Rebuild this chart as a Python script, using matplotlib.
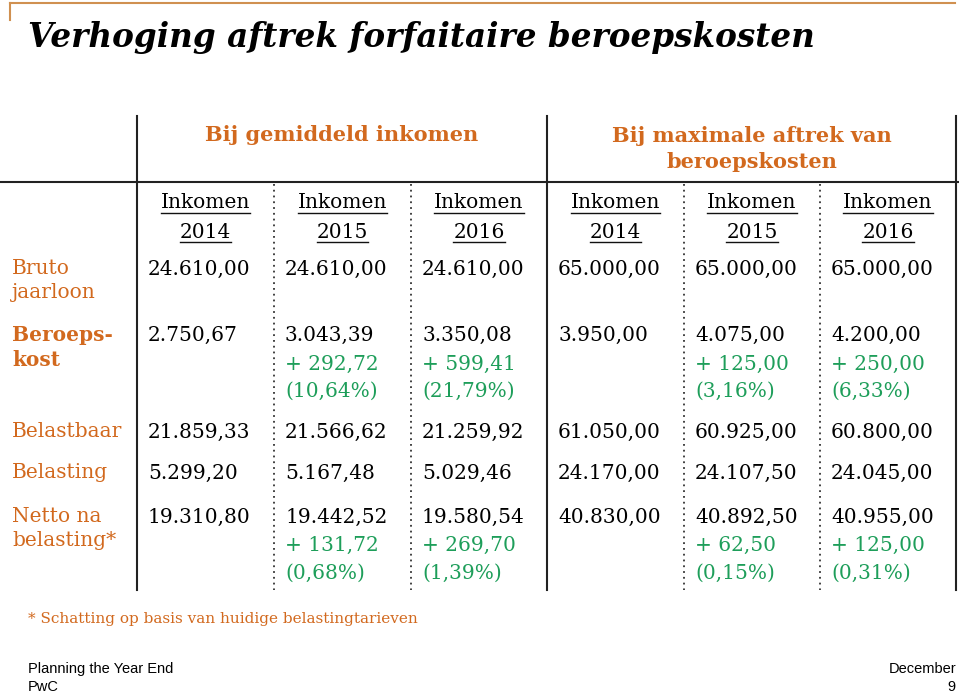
import matplotlib
matplotlib.use('Agg')
import matplotlib.pyplot as plt

# gegevens uit de tabel
groepen = ['Bij gemiddeld inkomen', 'Bij maximale aftrek van\nberoepskosten']
jaren = ['2014', '2015', '2016', '2014', '2015', '2016']
rij_labels = ['Bruto\njaarloon', 'Beroeps-\nkost', 'Belastbaar', 'Belasting', 'Netto na\nbelasting*']

bruto = [24610.00, 24610.00, 24610.00, 65000.00, 65000.00, 65000.00]
beroeps = [2750.67, 3043.39, 3350.08, 3950.00, 4075.00, 4200.00]
beroeps_plus = [None, 292.72, 599.41, None, 125.00, 250.00]
beroeps_pct = [None, 10.64, 21.79, None, 3.16, 6.33]
belastbaar = [21859.33, 21566.62, 21259.92, 61050.00, 60925.00, 60800.00]
belasting = [5299.20, 5167.48, 5029.46, 24170.00, 24107.50, 24045.00]
netto = [19310.80, 19442.52, 19580.54, 40830.00, 40892.50, 40955.00]
netto_plus = [None, 131.72, 269.70, None, 62.50, 125.00]
netto_pct = [None, 0.68, 1.39, None, 0.15, 0.31]

ORANJE = '#D2691E'
GROEN = '#1E9E5A'
LIJN = '#D09050'
SERIF = 'DejaVu Serif'


def nl(v):
    s = f'{v:,.2f}'
    return s.replace(',', 'X').replace('.', ',').replace('X', '.')


fig = plt.figure(figsize=(9.59, 6.93), dpi=100)
ax = fig.add_axes([0, 0, 1, 1])
ax.set_xlim(0, 959)
ax.set_ylim(693, 0)
ax.axis('off')

# kader bovenaan
ax.plot([10, 955], [3, 3], color=LIJN, lw=1.5)
ax.plot([10, 10], [3, 20], color=LIJN, lw=1.5)

ax.text(28, 37, 'Verhoging aftrek forfaitaire beroepskosten', family=SERIF,
        fontsize=23.5, fontweight='bold', fontstyle='italic', va='center', ha='left')

# lijnen van de tabel
kol_grens = [137, 274, 411, 547, 684, 820, 956]
ax.plot([0, 959], [182, 182], color='#222222', lw=1.5)
for x in [137, 547, 956]:
    ax.plot([x, x], [116, 590], color='#222222', lw=1.5)
for x in [274, 411, 684, 820]:
    ax.plot([x, x], [184, 590], color='#333333', lw=1.3, ls=(0, (1, 2.2)))

# groepskoppen
ax.text(342, 135, groepen[0], family=SERIF, fontsize=15, fontweight='bold',
        color=ORANJE, ha='center', va='center')
ax.text(752, 149, groepen[1], family=SERIF, fontsize=15, fontweight='bold',
        color=ORANJE, ha='center', va='center', linespacing=1.35)

fig.canvas.draw()
renderer = fig.canvas.get_renderer()
inv = ax.transData.inverted()

# kolomkoppen, onderstreept
for i, jaar in enumerate(jaren):
    xc = (kol_grens[i] + kol_grens[i + 1]) / 2
    for tekst, y in [('Inkomen', 203), (jaar, 232)]:
        t = ax.text(xc, y, tekst, family=SERIF, fontsize=14.5, ha='center', va='center')
        bb = t.get_window_extent(renderer)
        (x0, _), (x1, _) = inv.transform([(bb.x0, 0), (bb.x1, 0)])
        ax.plot([x0, x1], [y + 10, y + 10], color='#111111', lw=1.0)

# rijlabels
rij_y = [269, 335, 432, 473, 517]
for j, (lab, y) in enumerate(zip(rij_labels, rij_y)):
    ax.text(12, y - 10, lab, family=SERIF, fontsize=14.5, color=ORANJE,
            fontweight='bold' if j == 1 else 'normal', ha='left', va='top',
            linespacing=1.32)

# waarden
for i in range(6):
    x = kol_grens[i] + 11
    ax.text(x, 269, nl(bruto[i]), family=SERIF, fontsize=14.5, va='center')
    ax.text(x, 335, nl(beroeps[i]), family=SERIF, fontsize=14.5, va='center')
    if beroeps_plus[i] is not None:
        ax.text(x, 364, '+ ' + nl(beroeps_plus[i]), family=SERIF, fontsize=14.5,
                color=GROEN, va='center')
        ax.text(x, 391, '(' + nl(beroeps_pct[i]) + '%)', family=SERIF, fontsize=14.5,
                color=GROEN, va='center')
    ax.text(x, 432, nl(belastbaar[i]), family=SERIF, fontsize=14.5, va='center')
    ax.text(x, 473, nl(belasting[i]), family=SERIF, fontsize=14.5, va='center')
    ax.text(x, 517, nl(netto[i]), family=SERIF, fontsize=14.5, va='center')
    if netto_plus[i] is not None:
        ax.text(x, 545, '+ ' + nl(netto_plus[i]), family=SERIF, fontsize=14.5,
                color=GROEN, va='center')
        ax.text(x, 573, '(' + nl(netto_pct[i]) + '%)', family=SERIF, fontsize=14.5,
                color=GROEN, va='center')

ax.text(28, 619, '* Schatting op basis van huidige belastingtarieven', family=SERIF,
        fontsize=11, color=ORANJE, va='center')

# voettekst
ax.text(28, 669, 'Planning the Year End', family='Liberation Sans', fontsize=10.5, va='center')
ax.text(28, 687, 'PwC', family='Liberation Sans', fontsize=10.5, va='center')
ax.text(956, 669, 'December', family='Liberation Sans', fontsize=10.5, va='center', ha='right')
ax.text(956, 687, '9', family='Liberation Sans', fontsize=10.5, va='center', ha='right')

fig.savefig('out.png', dpi=100)
